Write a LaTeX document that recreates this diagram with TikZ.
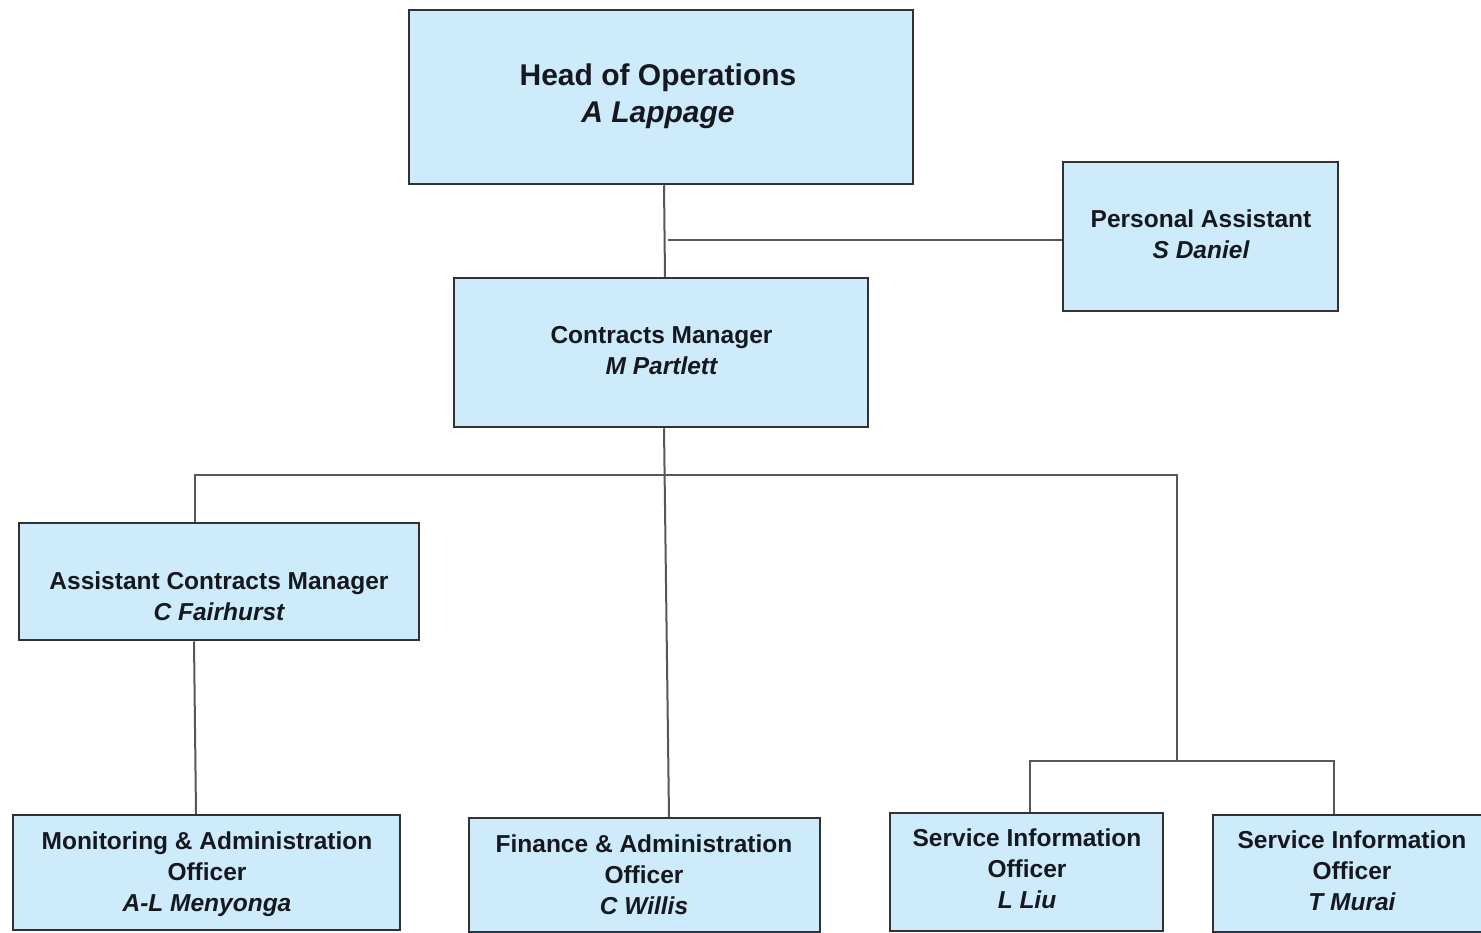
\documentclass[tikz,border=0pt]{standalone}
\usepackage{fontspec}
\setmainfont{Liberation Sans}
\definecolor{boxfill}{HTML}{CDEBFB}
\definecolor{boxline}{HTML}{303236}
\definecolor{conline}{HTML}{55575A}
\definecolor{txtcol}{HTML}{15191F}
\begin{document}
\begin{tikzpicture}[x=1pt,y=-1pt,
  orgbox/.style={draw=boxline, line width=2.5pt, fill=boxfill, inner sep=0pt, rectangle},
  orgtext/.style={align=center, text=txtcol, font=\fontsize{24.5}{31}\selectfont\bfseries, inner sep=0pt},
  headtext/.style={align=center, text=txtcol, font=\fontsize{30}{37}\selectfont\bfseries, inner sep=0pt},
  conn/.style={draw=conline, line width=2pt}]
\path[use as bounding box, fill=white] (0,0) rectangle (1481,932);
\clip (0,0) rectangle (1481,932);

% boxes
\node[orgbox, minimum width=504pt, minimum height=174pt] (head) at (661,97) {};
\node[orgbox, minimum width=275pt, minimum height=149pt] (pa) at (1200.5,236.5) {};
\node[orgbox, minimum width=414pt, minimum height=149pt] (cm) at (661,352.5) {};
\node[orgbox, minimum width=400pt, minimum height=117pt] (acm) at (219,581.5) {};
\node[orgbox, minimum width=387pt, minimum height=115pt] (mon) at (206.5,872.5) {};
\node[orgbox, minimum width=351pt, minimum height=114pt] (fin) at (644.5,875) {};
\node[orgbox, minimum width=273pt, minimum height=118pt] (sioa) at (1026.5,872) {};
\node[orgbox, minimum width=287pt, minimum height=117pt] (siob) at (1356.5,873.5) {};

% texts
\node[headtext] (headt) at (658,96) {Head of Operations\\\itshape A Lappage};
\node[orgtext] (pat) at (1201,234) {Personal Assistant\\\itshape S Daniel};
\node[orgtext] (cmt) at (661.5,351) {Contracts Manager\\\itshape M Partlett};
\node[orgtext] (acmt) at (219,596) {Assistant Contracts Manager\\\itshape C Fairhurst};
\node[orgtext] (mont) at (207,874) {Monitoring \& Administration\\Officer\\\itshape A-L Menyonga};
\node[orgtext] (fint) at (644,875) {Finance \& Administration\\Officer\\\itshape C Willis};
\node[orgtext] (sioat) at (1027,869) {Service Information\\Officer\\\itshape L Liu};
\node[orgtext] (siobt) at (1352,871) {Service Information\\Officer\\\itshape T Murai};

% connector points
\coordinate (pajoin) at (668,240);
\coordinate (busL) at (195,475);
\coordinate (busR) at (1177,475);
\coordinate (sioJ) at (1177,761);
\coordinate (sioL) at (1030,761);
\coordinate (sioR) at (1334,761);

% connectors
\draw[conn] ([xshift=3pt]head.south) -- ([xshift=4pt]cm.north);
\draw[conn] (pa.west |- pajoin) -- (pajoin);
\draw[conn] ([xshift=3pt]cm.south) -- ([xshift=24.5pt]fin.north);
\draw[conn] (busL |- acm.north) -- (busL) -- (busR) -- (sioJ);
\draw[conn] ([xshift=-25pt]acm.south) -- ([xshift=-10.5pt]mon.north);
\draw[conn] (sioL |- sioa.north) -- (sioL) -- (sioR) -- (sioR |- siob.north);
\end{tikzpicture}
\end{document}
